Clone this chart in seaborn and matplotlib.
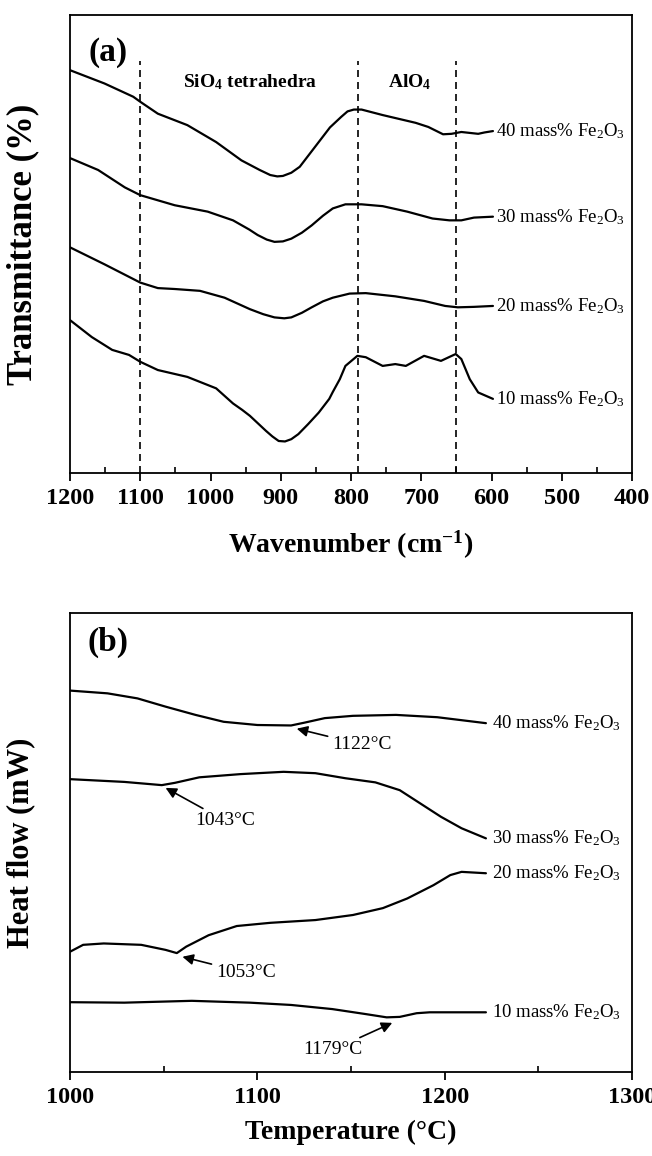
import numpy as np                                                   # Arrays for the curves.
import pandas as pd                                                  # Long table for seaborn.
import matplotlib.pyplot as plt                                      # Figure and axes.
from matplotlib.ticker import MultipleLocator
import seaborn as sns                                                # Line drawing.

# ---- panel (a): FTIR spectra, wavenumber (cm-1) vs transmittance (a.u.) ----
wn_40 = [1200, 1151, 1110, 1100, 1075, 1033, 992, 956, 930, 915, 905, 897, 885, 873, 860, 844, 830, 814, 805, 796, 785, 755, 708, 690, 669, 657, 643, 631, 619, 610, 598]
tr_40 = [88.0, 85.1, 82.2, 81.1, 78.5, 76.0, 72.3, 68.3, 66.2, 65.1, 64.8, 64.9, 65.6, 66.9, 69.5, 72.7, 75.5, 77.8, 79.0, 79.4, 79.4, 78.2, 76.5, 75.6, 74.0, 74.1, 74.5, 74.3, 74.1, 74.4, 74.7]
wn_30 = [1200, 1160, 1122, 1100, 1051, 1004, 968, 945, 933, 920, 909, 897, 885, 870, 856, 840, 826, 808, 785, 755, 720, 684, 660, 643, 625, 598]
tr_30 = [68.8, 66.2, 62.4, 60.7, 58.5, 57.1, 55.2, 53.2, 52.0, 51.0, 50.5, 50.6, 51.2, 52.5, 54.1, 56.2, 57.8, 58.7, 58.7, 58.3, 57.1, 55.6, 55.2, 55.2, 55.8, 56.0]
wn_20 = [1200, 1151, 1100, 1075, 1051, 1015, 980, 944, 925, 909, 895, 885, 870, 856, 840, 826, 802, 779, 737, 696, 666, 648, 625, 598]
tr_20 = [49.3, 45.6, 41.6, 40.4, 40.2, 39.8, 38.3, 35.8, 34.7, 34.0, 33.8, 34.0, 35.0, 36.2, 37.5, 38.3, 39.2, 39.3, 38.6, 37.6, 36.5, 36.2, 36.3, 36.5]
wn_10 = [1200, 1169, 1140, 1116, 1100, 1075, 1033, 992, 968, 955, 944, 921, 912, 903, 894, 885, 875, 861, 846, 831, 826, 816, 808, 791, 779, 755, 737, 722, 696, 672, 651, 643, 631, 619, 598]
tr_10 = [33.4, 29.7, 26.9, 25.8, 24.3, 22.5, 21.0, 18.5, 15.2, 13.8, 12.5, 9.2, 8.0, 7.0, 6.9, 7.4, 8.5, 10.7, 13.2, 16.2, 17.7, 20.5, 23.4, 25.6, 25.3, 23.4, 23.8, 23.4, 25.6, 24.5, 26.0, 24.9, 20.5, 17.6, 16.2]
band_lines = [1100, 790, 650]                                        # Dashed band limits.
band_names = [r"SiO$_\mathbf{4}$ tetrahedra", r"AlO$_\mathbf{4}$"]
band_centres = [944, 717]

# ---- panel (b): DSC curves, temperature (C) vs heat flow (a.u.) ----
t_40 = [1000, 1020, 1036, 1051, 1067, 1082, 1100, 1118, 1125, 1136, 1151, 1174, 1196, 1222]
hf_40 = [83.1, 82.5, 81.4, 79.6, 77.8, 76.3, 75.6, 75.5, 76.1, 77.1, 77.6, 77.8, 77.3, 76.0]
t_30 = [1000, 1029, 1049, 1056, 1069, 1091, 1114, 1131, 1147, 1163, 1176, 1187, 1198, 1209, 1222]
hf_30 = [63.8, 63.2, 62.5, 63.0, 64.2, 64.9, 65.4, 65.1, 64.0, 63.1, 61.4, 58.5, 55.6, 53.1, 50.9]
t_20 = [1000, 1007, 1018, 1038, 1051, 1057, 1062, 1074, 1089, 1107, 1131, 1151, 1167, 1180, 1194, 1203, 1209, 1222]
hf_20 = [26.2, 27.7, 28.0, 27.7, 26.6, 25.9, 27.3, 29.8, 31.8, 32.5, 33.1, 34.2, 35.7, 37.8, 40.7, 42.9, 43.6, 43.3]
t_10 = [1000, 1029, 1065, 1096, 1118, 1140, 1158, 1169, 1176, 1185, 1192, 1222]
hf_10 = [15.2, 15.1, 15.5, 15.1, 14.6, 13.7, 12.6, 11.9, 12.0, 12.8, 13.0, 13.0]
peak_text = ["1122\u00b0C", "1043\u00b0C", "1053\u00b0C", "1179\u00b0C"]
peak_tip = [(1121, 74.8), (1051, 61.9), (1060, 25.1), (1172, 10.7)]
peak_txt = [(1140, 71.3), (1067, 54.7), (1078, 21.6), (1156, 4.8)]

series_names = ["40 mass% Fe$_2$O$_3$", "30 mass% Fe$_2$O$_3$", "20 mass% Fe$_2$O$_3$", "10 mass% Fe$_2$O$_3$"]


def long_table(xs, ys, xname, yname):                                # One long dataframe for all four samples
    rows = []
    for name, x, y in zip(series_names, xs, ys):
        rows.append(pd.DataFrame({xname: x, yname: y, "Sample": name}))
    return pd.concat(rows, ignore_index=True)


df_a = long_table([wn_40, wn_30, wn_20, wn_10], [tr_40, tr_30, tr_20, tr_10], "Wavenumber", "Transmittance")
df_b = long_table([t_40, t_30, t_20, t_10], [hf_40, hf_30, hf_20, hf_10], "Temperature", "HeatFlow")

sns.set_theme(style="ticks")
plt.rcParams['font.family'] = ['Liberation Serif', 'DejaVu Serif']  # Times-like look
plt.rcParams['mathtext.fontset'] = 'custom'
plt.rcParams['mathtext.rm'] = 'Liberation Serif'
plt.rcParams['mathtext.it'] = 'Liberation Serif:italic'
plt.rcParams['mathtext.bf'] = 'Liberation Serif:bold'
plt.rcParams['text.color'] = 'black'                                 # Pure black text like the paper figure
plt.rcParams['axes.labelcolor'] = 'black'
plt.rcParams['xtick.color'] = 'black'

fig = plt.figure(figsize=(6.52, 11.56), dpi=100)
ax1 = fig.add_axes([0.1074, 0.5908, 0.862, 0.396])
ax2 = fig.add_axes([0.1074, 0.0727, 0.862, 0.397])

for ax, df, xcol, ycol in [(ax1, df_a, "Wavenumber", "Transmittance"), (ax2, df_b, "Temperature", "HeatFlow")]:
    sns.lineplot(data=df, x=xcol, y=ycol, units="Sample", estimator=None,
                 color="black", linewidth=1.6, ax=ax, legend=False)
    for name in series_names:                                        # Sample label right after each curve end
        sub = df[df["Sample"] == name]
        xe, ye = sub[xcol].iloc[-1], sub[ycol].iloc[-1]
        dx = -4 if ax is ax1 else 3
        ax.text(xe + dx, ye, name, fontsize=13.5, ha="left", va="center", color="black")
    for s in ax.spines.values():
        s.set_linewidth(1.3)
        s.set_color("black")
    ax.set_ylim(0, 100)
    ax.set_yticks([])
    ax.tick_params(axis="x", which="major", direction="out", length=6, width=1.3, pad=5,
                   labelsize=17.5, colors="black", top=False)
    ax.tick_params(axis="x", which="minor", direction="in", length=4, width=1.2, top=False)
    for lab in ax.get_xticklabels():
        lab.set_fontweight("bold")

# panel (a) details
ax1.set_xlim(1200, 400)
ax1.xaxis.set_major_locator(MultipleLocator(100))
ax1.xaxis.set_minor_locator(MultipleLocator(50))
for w in band_lines:
    ax1.axvline(w, ymax=0.9, color="black", linewidth=1.2, linestyle=(0, (4.2, 3)))
for name, c in zip(band_names, band_centres):
    ax1.text(c, 85.4, name, fontsize=14, fontweight="bold", ha="center", va="center", color="black")
ax1.text(0.068, 0.919, "(a)", transform=ax1.transAxes, fontsize=24, fontweight="bold", ha="center", va="center", color="black")
ax1.set_xlabel(r"Wavenumber (cm$^{\mathbf{-1}}$)", fontsize=20, fontweight="bold", labelpad=14, color="black")
ax1.set_ylabel("Transmittance (%)", fontsize=25, fontweight="bold", labelpad=22, color="black")

# panel (b) details
ax2.set_xlim(1000, 1300)
ax2.xaxis.set_major_locator(MultipleLocator(100))
ax2.xaxis.set_minor_locator(MultipleLocator(50))
for txt, tip, pos in zip(peak_text, peak_tip, peak_txt):
    ha = "right" if pos[0] < tip[0] else "left"
    ax2.annotate(txt, xy=tip, xytext=pos, fontsize=14, ha=ha, va="center", color="black",
                 arrowprops=dict(arrowstyle="-|>", color="black", lw=1.2, mutation_scale=16, shrinkA=1, shrinkB=0))
ax2.text(0.068, 0.935, "(b)", transform=ax2.transAxes, fontsize=24, fontweight="bold", ha="center", va="center", color="black")
ax2.set_xlabel("Temperature (\u00b0C)", fontsize=20, fontweight="bold", labelpad=8, color="black")
ax2.set_ylabel("Heat flow (mW)", fontsize=22, fontweight="bold", labelpad=25, color="black")

fig.savefig("out.png", dpi=100, facecolor="white")
